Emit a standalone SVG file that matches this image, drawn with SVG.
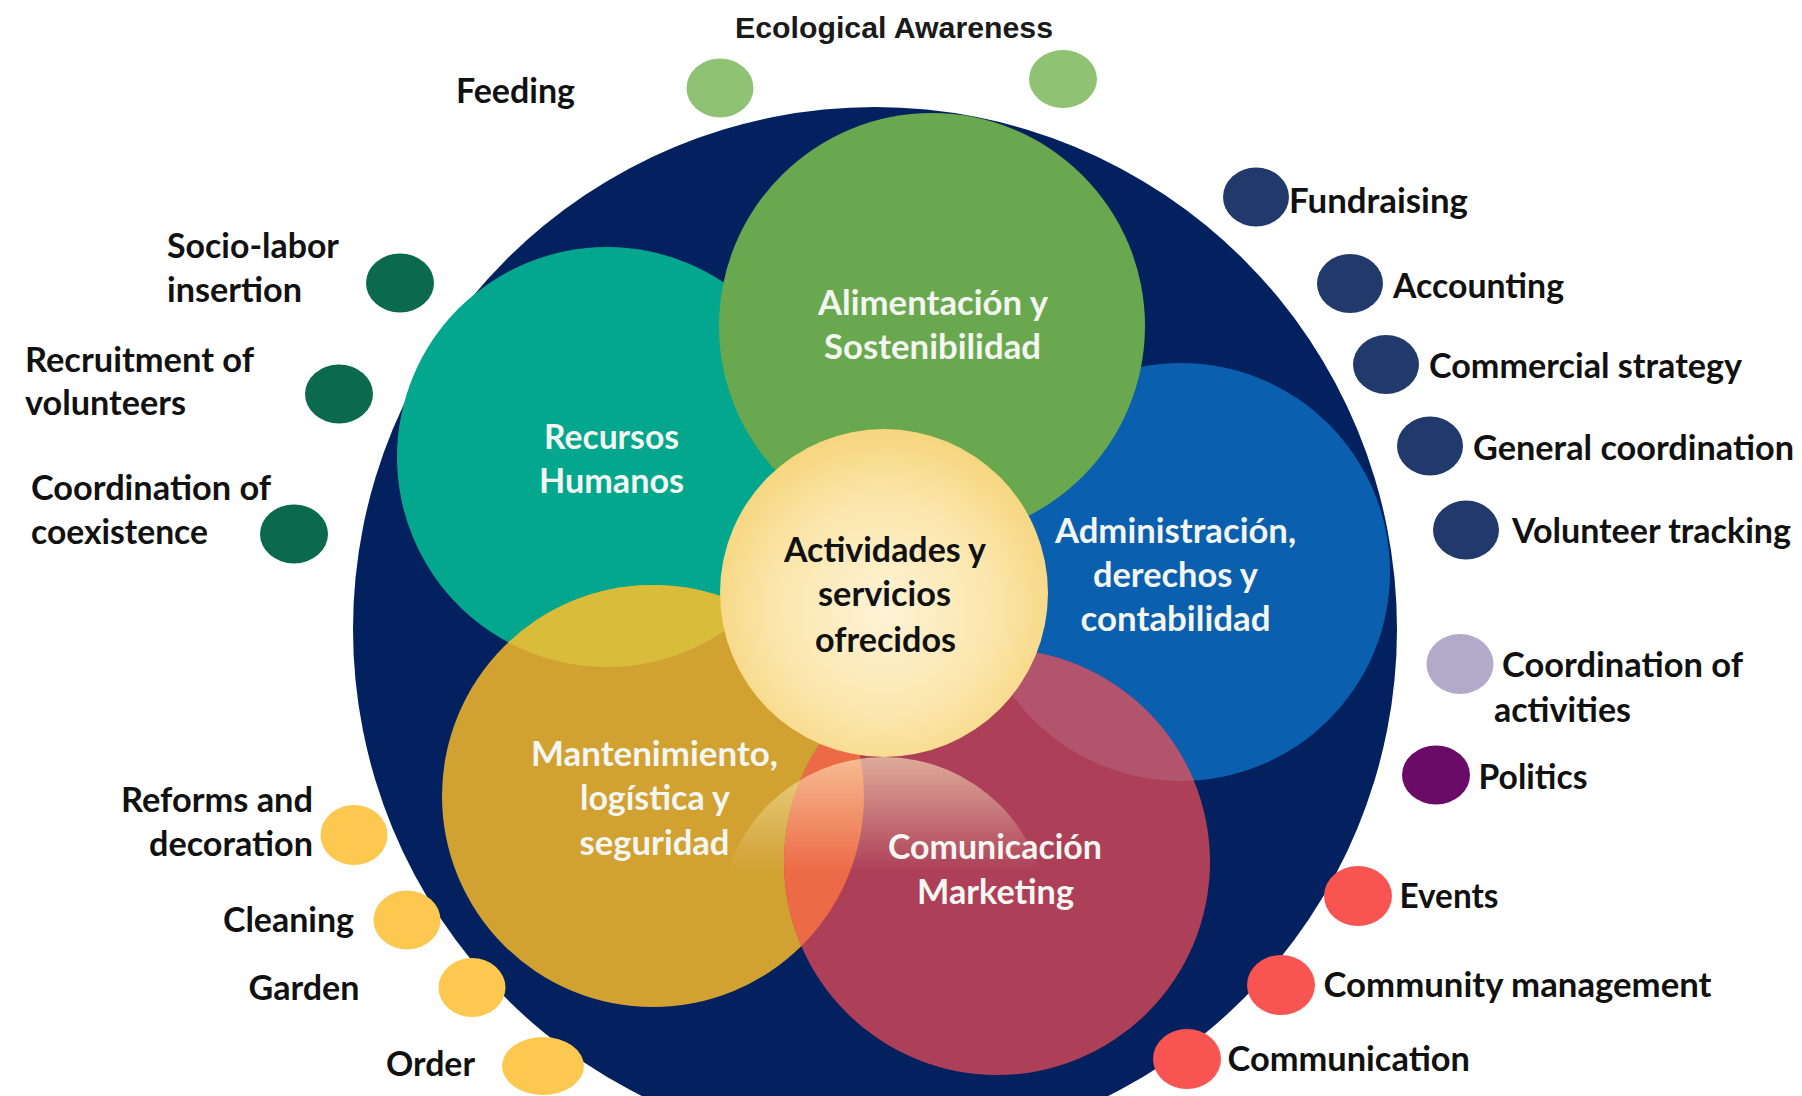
<svg xmlns="http://www.w3.org/2000/svg" width="1802" height="1096" viewBox="0 0 1802 1096">
<defs>
<style>
.lbl{font-family:Lato,"Open Sans","Liberation Sans",sans-serif;font-weight:700;font-size:34px;fill:#111111}
.in{font-family:Lato,"Open Sans","Liberation Sans",sans-serif;font-weight:700;font-size:34px;fill:#f4f6f2;text-anchor:middle}
.ctr{font-family:Lato,"Open Sans","Liberation Sans",sans-serif;font-weight:700;font-size:34px;fill:#111111;text-anchor:middle}
.eco{font-family:"Liberation Sans",Arial,sans-serif;font-weight:700;font-size:30px;fill:#1a1a1a}
.d-lg{fill:#8fc373}
.d-dg{fill:#0a6a4b}
.d-y{fill:#fcc84f}
.d-nb{fill:#223a6b}
.d-lv{fill:#b2aac8}
.d-pu{fill:#6a0b68}
.d-co{fill:#f85451}
</style>
<clipPath id="clipGold"><circle cx="653" cy="796" r="211"/></clipPath>
<clipPath id="clipRed"><circle cx="997" cy="862" r="213"/></clipPath>
<linearGradient id="refl" x1="0" y1="0" x2="0" y2="1">
<stop offset="0" stop-color="#fff2c4" stop-opacity="0.6"/>
<stop offset="0.35" stop-color="#fff2c4" stop-opacity="0"/>
</linearGradient>
<radialGradient id="ctrGrad" cx="0.5" cy="0.55" r="0.55">
<stop offset="0" stop-color="#fdf3d6"/>
<stop offset="0.6" stop-color="#fbe6ac"/>
<stop offset="1" stop-color="#f6d57d"/>
</radialGradient>
</defs>
<rect width="1802" height="1096" fill="#ffffff"/>

<g id="outer-circle">
<circle cx="875" cy="629" r="522" fill="#03215f"/>
</g>

<g id="node-recursos-humanos">
<circle cx="607" cy="457" r="210" fill="#02a78d"/>
</g>
<g id="node-administracion">
<circle cx="1181" cy="572" r="209" fill="#0a5fae"/>
</g>
<g id="node-alimentacion">
<circle cx="932" cy="326" r="213" fill="#6aa84f"/>
</g>
<g id="node-mantenimiento">
<circle cx="653" cy="796" r="211" fill="#d1a132"/>
<circle cx="607" cy="457" r="210" fill="#d9bd3a" clip-path="url(#clipGold)"/>
</g>
<g id="node-comunicacion">
<circle cx="997" cy="862" r="213" fill="#ad3f58"/>
<circle cx="1181" cy="572" r="209" fill="#b3546f" clip-path="url(#clipRed)"/>
<circle cx="653" cy="796" r="211" fill="#ec6a46" clip-path="url(#clipRed)"/>
</g>
<g id="reflection">
<circle cx="884" cy="921" r="164" fill="url(#refl)"/>
</g>
<g id="node-actividades">
<circle cx="884" cy="593" r="164" fill="url(#ctrGrad)"/>
<text class="ctr" x="885" y="561.5" textLength="202" lengthAdjust="spacingAndGlyphs">Actividades y</text>
<text class="ctr" x="884.5" y="606" textLength="133" lengthAdjust="spacingAndGlyphs">servicios</text>
<text class="ctr" x="885.5" y="651.5" textLength="141" lengthAdjust="spacingAndGlyphs">ofrecidos</text>
</g>

<g id="inner-labels">
<text class="in" x="933" y="315" textLength="230" lengthAdjust="spacingAndGlyphs">Alimentación y</text>
<text class="in" x="932.5" y="359" textLength="217" lengthAdjust="spacingAndGlyphs">Sostenibilidad</text>
<text class="in" x="611.5" y="448.5" textLength="135" lengthAdjust="spacingAndGlyphs">Recursos</text>
<text class="in" x="611.5" y="492.5" textLength="145" lengthAdjust="spacingAndGlyphs">Humanos</text>
<text class="in" x="1175.5" y="542.5" textLength="241" lengthAdjust="spacingAndGlyphs">Administración,</text>
<text class="in" x="1175.5" y="586.5" textLength="165" lengthAdjust="spacingAndGlyphs">derechos y</text>
<text class="in" x="1175.5" y="631" textLength="190" lengthAdjust="spacingAndGlyphs">contabilidad</text>
<text class="in" x="654.5" y="766" textLength="247" lengthAdjust="spacingAndGlyphs">Mantenimiento,</text>
<text class="in" x="655" y="810" textLength="150" lengthAdjust="spacingAndGlyphs">logística y</text>
<text class="in" x="654.5" y="854.5" textLength="150" lengthAdjust="spacingAndGlyphs">seguridad</text>
<text class="in" x="995" y="859" textLength="214" lengthAdjust="spacingAndGlyphs">Comunicación</text>
<text class="in" x="995.5" y="903.5" textLength="157" lengthAdjust="spacingAndGlyphs">Marketing</text>
</g>

<g id="connectors"></g>

<g id="item-ecological-awareness">
<ellipse class="d-lg" cx="1063" cy="79" rx="34" ry="29"/>
<text class="eco" x="735" y="37.5" textLength="318" lengthAdjust="spacingAndGlyphs">Ecological Awareness</text>
</g>
<g id="item-feeding">
<ellipse class="d-lg" cx="720" cy="88" rx="33.5" ry="29.5"/>
<text class="lbl" x="456" y="103" textLength="119" lengthAdjust="spacingAndGlyphs">Feeding</text>
</g>
<g id="item-socio-labor">
<ellipse class="d-dg" cx="400" cy="283" rx="34" ry="29.5"/>
<text class="lbl" x="167" y="258" textLength="172" lengthAdjust="spacingAndGlyphs">Socio-labor</text>
<text class="lbl" x="167" y="302" textLength="135" lengthAdjust="spacingAndGlyphs">insertion</text>
</g>
<g id="item-recruitment">
<ellipse class="d-dg" cx="339" cy="394" rx="34" ry="29.5"/>
<text class="lbl" x="25" y="371.5" textLength="229" lengthAdjust="spacingAndGlyphs">Recruitment of</text>
<text class="lbl" x="25" y="415" textLength="161" lengthAdjust="spacingAndGlyphs">volunteers</text>
</g>
<g id="item-coexistence">
<ellipse class="d-dg" cx="294" cy="534" rx="34" ry="29.5"/>
<text class="lbl" x="31" y="500" textLength="240" lengthAdjust="spacingAndGlyphs">Coordination of</text>
<text class="lbl" x="31" y="544" textLength="177" lengthAdjust="spacingAndGlyphs">coexistence</text>
</g>
<g id="item-reforms">
<ellipse class="d-y" cx="354" cy="835" rx="33.5" ry="30"/>
<text class="lbl" x="121" y="812" textLength="192" lengthAdjust="spacingAndGlyphs">Reforms and</text>
<text class="lbl" x="149" y="856" textLength="164" lengthAdjust="spacingAndGlyphs">decoration</text>
</g>
<g id="item-cleaning">
<ellipse class="d-y" cx="407" cy="920" rx="33.5" ry="29.5"/>
<text class="lbl" x="223" y="932" textLength="131" lengthAdjust="spacingAndGlyphs">Cleaning</text>
</g>
<g id="item-garden">
<ellipse class="d-y" cx="472" cy="987.5" rx="33.5" ry="29.5"/>
<text class="lbl" x="248.5" y="1000" textLength="111" lengthAdjust="spacingAndGlyphs">Garden</text>
</g>
<g id="item-order">
<ellipse class="d-y" cx="543" cy="1066" rx="41" ry="29"/>
<text class="lbl" x="386" y="1075.5" textLength="89" lengthAdjust="spacingAndGlyphs">Order</text>
</g>

<g id="item-fundraising">
<ellipse class="d-nb" cx="1256" cy="197" rx="33" ry="29.5"/>
<text class="lbl" x="1289" y="212.5" textLength="179" lengthAdjust="spacingAndGlyphs">Fundraising</text>
</g>
<g id="item-accounting">
<ellipse class="d-nb" cx="1350" cy="283.5" rx="33" ry="29.5"/>
<text class="lbl" x="1393" y="298" textLength="171" lengthAdjust="spacingAndGlyphs">Accounting</text>
</g>
<g id="item-commercial">
<ellipse class="d-nb" cx="1386" cy="364.5" rx="33" ry="29.5"/>
<text class="lbl" x="1429" y="378" textLength="313" lengthAdjust="spacingAndGlyphs">Commercial strategy</text>
</g>
<g id="item-general-coordination">
<ellipse class="d-nb" cx="1430" cy="446" rx="33" ry="29.5"/>
<text class="lbl" x="1473" y="460" textLength="321" lengthAdjust="spacingAndGlyphs">General coordination</text>
</g>
<g id="item-volunteer-tracking">
<ellipse class="d-nb" cx="1466" cy="530" rx="33" ry="29.5"/>
<text class="lbl" x="1512" y="543" textLength="279" lengthAdjust="spacingAndGlyphs">Volunteer tracking</text>
</g>
<g id="item-coordination-activities">
<ellipse class="d-lv" cx="1460" cy="664" rx="33.5" ry="30"/>
<text class="lbl" x="1502" y="677" textLength="241" lengthAdjust="spacingAndGlyphs">Coordination of</text>
<text class="lbl" x="1494" y="722" textLength="137" lengthAdjust="spacingAndGlyphs">activities</text>
</g>
<g id="item-politics">
<ellipse class="d-pu" cx="1436" cy="775" rx="34" ry="29.5"/>
<text class="lbl" x="1478.5" y="789" textLength="109" lengthAdjust="spacingAndGlyphs">Politics</text>
</g>
<g id="item-events">
<ellipse class="d-co" cx="1358" cy="896" rx="34" ry="30"/>
<text class="lbl" x="1399.5" y="908" textLength="99" lengthAdjust="spacingAndGlyphs">Events</text>
</g>
<g id="item-community-management">
<ellipse class="d-co" cx="1281" cy="985" rx="34" ry="30"/>
<text class="lbl" x="1323.5" y="997" textLength="388" lengthAdjust="spacingAndGlyphs">Community management</text>
</g>
<g id="item-communication">
<ellipse class="d-co" cx="1187" cy="1059" rx="34" ry="30"/>
<text class="lbl" x="1227.5" y="1070.5" textLength="242.5" lengthAdjust="spacingAndGlyphs">Communication</text>
</g>
</svg>
